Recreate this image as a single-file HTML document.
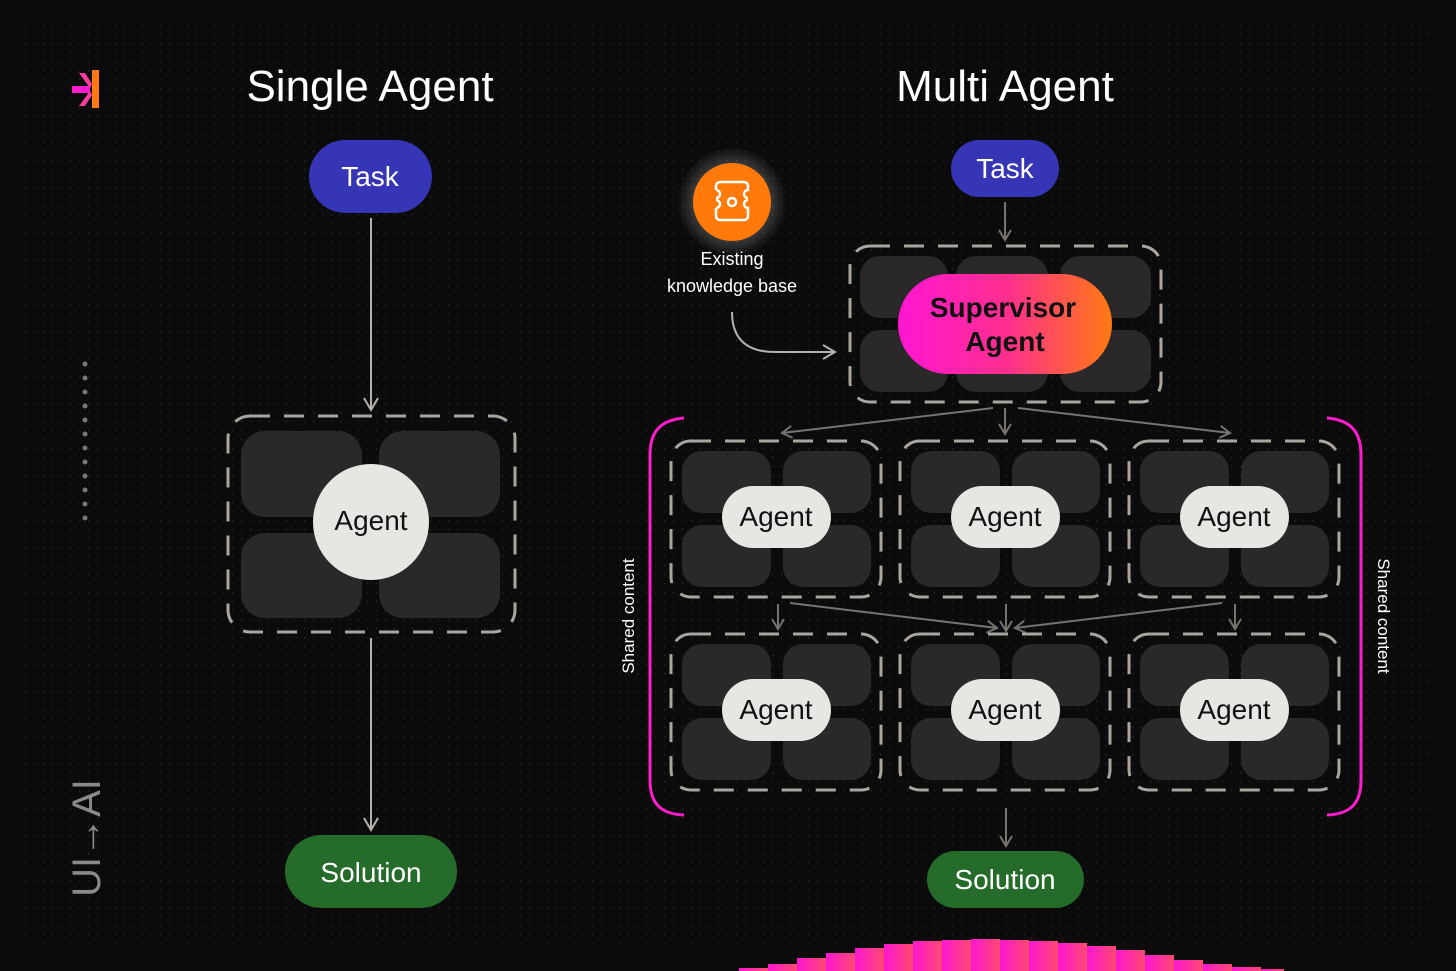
<!DOCTYPE html>
<html><head><meta charset="utf-8"><style>
html,body{margin:0;padding:0;background:#0b0b0b;}
svg{display:block;font-family:"Liberation Sans",sans-serif;}
</style></head><body>
<svg width="1456" height="971" viewBox="0 0 1456 971" xmlns="http://www.w3.org/2000/svg">
<defs>
<pattern id="dots" x="25" y="25" width="9" height="9" patternUnits="userSpaceOnUse"><rect width="1.3" height="1.3" fill="#2c2c2c"/></pattern>
<linearGradient id="sup" x1="0" x2="1"><stop offset="0" stop-color="#ff16d2"/><stop offset="0.5" stop-color="#ff2e90"/><stop offset="1" stop-color="#ff7a12"/></linearGradient>
<linearGradient id="bar" x1="0" x2="1"><stop offset="0" stop-color="#ff16d2"/><stop offset="1" stop-color="#ff4a70"/></linearGradient>
<radialGradient id="glow"><stop offset="0.6" stop-color="#ffffff" stop-opacity="0.25"/><stop offset="1" stop-color="#ffffff" stop-opacity="0"/></radialGradient>
<marker id="ah" markerWidth="14" markerHeight="14" refX="11" refY="7" orient="auto" markerUnits="userSpaceOnUse"><path d="M1,1 L11,7 L1,13" fill="none" stroke="#77736e" stroke-width="2"/></marker>
<marker id="ah2" markerWidth="16" markerHeight="16" refX="13" refY="8" orient="auto" markerUnits="userSpaceOnUse"><path d="M1,1 L13,8 L1,15" fill="none" stroke="#b5b1ac" stroke-width="2"/></marker>
</defs>
<rect width="1456" height="971" fill="#0b0b0b"/>
<rect x="25" y="25" width="1405" height="925" fill="url(#dots)"/>

<!-- logo -->
<rect x="92" y="70" width="7" height="38" fill="#ff7a12"/>
<rect x="72" y="86" width="18" height="7" fill="#ff1ccc"/>
<path d="M79,73 L85,73 L92,84 L90,88 Z" fill="#ff3aa0"/>
<path d="M90,91 L92,95 L85,106 L79,106 Z" fill="#ff3aa0"/>

<!-- left vertical dots -->
<g fill="#777">
<circle cx="85" cy="364" r="2.5"/><circle cx="85" cy="378" r="2.5"/><circle cx="85" cy="392" r="2.5"/><circle cx="85" cy="406" r="2.5"/><circle cx="85" cy="420" r="2.5"/><circle cx="85" cy="434" r="2.5"/><circle cx="85" cy="448" r="2.5"/><circle cx="85" cy="462" r="2.5"/><circle cx="85" cy="476" r="2.5"/><circle cx="85" cy="490" r="2.5"/><circle cx="85" cy="504" r="2.5"/><circle cx="85" cy="518" r="2.5"/>
</g>
<text transform="translate(100,838) rotate(-90)" text-anchor="middle" font-size="40" fill="#8a8a8a" font-weight="300">UI→AI</text>

<!-- titles -->
<text x="370" y="101" text-anchor="middle" font-size="44" fill="#fff">Single Agent</text>
<text x="1005" y="101" text-anchor="middle" font-size="44" fill="#fff">Multi Agent</text>

<!-- SINGLE -->
<rect x="309" y="140" width="123" height="73" rx="36.5" fill="#3535b5"/>
<text x="370" y="186" text-anchor="middle" font-size="28" fill="#fff">Task</text>
<line x1="371" y1="218" x2="371" y2="410" stroke="#b5b1ac" stroke-width="2" marker-end="url(#ah2)"/>
<rect x="228" y="416" width="287" height="216" rx="22" fill="none" stroke="#aaa59f" stroke-width="3" stroke-dasharray="20 14"/>
<g fill="#2a2828">
<rect x="241" y="431" width="121" height="86" rx="24"/><rect x="379" y="431" width="121" height="86" rx="24"/>
<rect x="241" y="533" width="121" height="85" rx="24"/><rect x="379" y="533" width="121" height="85" rx="24"/>
</g>
<circle cx="371" cy="522" r="58" fill="#e8e6e3"/>
<text x="371" y="530" text-anchor="middle" font-size="28" fill="#111">Agent</text>
<line x1="371" y1="638" x2="371" y2="830" stroke="#b5b1ac" stroke-width="2" marker-end="url(#ah2)"/>
<rect x="285" y="835" width="172" height="73" rx="36.5" fill="#256b2a"/>
<text x="371" y="882" text-anchor="middle" font-size="28" fill="#fff">Solution</text>

<!-- MULTI -->
<rect x="951" y="140" width="108" height="57" rx="28.5" fill="#3535b5"/>
<text x="1005" y="178" text-anchor="middle" font-size="28" fill="#fff">Task</text>
<line x1="1005" y1="202" x2="1005" y2="240" stroke="#77736e" stroke-width="2" marker-end="url(#ah)"/>

<circle cx="732" cy="202" r="55" fill="url(#glow)"/>
<circle cx="732" cy="202" r="39" fill="#ff7a0a"/>
<g fill="none" stroke="#fff" stroke-width="2.5">
<path d="M716,190 v-4 a4,4 0 0 1 4,-4 h24 a4,4 0 0 1 4,4 v4 a4,4 0 0 0 0,8 M716,190 a4,4 0 0 1 0,8"/>
<path d="M716,208 v8 a4,4 0 0 0 4,4 h24 a4,4 0 0 0 4,-4 v-8 a4,4 0 0 1 0,-8 M716,208 a4,4 0 0 0 0,-8"/>
<circle cx="732" cy="202" r="4"/>
</g>
<text x="732" y="265" text-anchor="middle" font-size="18" fill="#fff">Existing</text>
<text x="732" y="292" text-anchor="middle" font-size="18" fill="#fff">knowledge base</text>
<path d="M732,312 C732,340 748,352 775,352 L835,352" fill="none" stroke="#b5b1ac" stroke-width="2" marker-end="url(#ah2)"/>

<rect x="850" y="246" width="311" height="156" rx="20" fill="none" stroke="#aaa59f" stroke-width="3" stroke-dasharray="20 14"/>
<g fill="#2a2828">
<rect x="860" y="256" width="88" height="62" rx="20"/><rect x="956" y="256" width="92" height="62" rx="20"/><rect x="1060" y="256" width="91" height="62" rx="20"/>
<rect x="860" y="330" width="88" height="62" rx="20"/><rect x="956" y="330" width="92" height="62" rx="20"/><rect x="1060" y="330" width="91" height="62" rx="20"/>
</g>
<rect x="898" y="274" width="214" height="100" rx="50" fill="url(#sup)"/>
<text x="1003" y="317" text-anchor="middle" font-size="28" fill="#111" font-weight="bold">Supervisor</text>
<text x="1005" y="351" text-anchor="middle" font-size="28" fill="#111" font-weight="bold">Agent</text>

<g stroke="#77736e" stroke-width="2" fill="none">
<line x1="993" y1="408" x2="782" y2="433" marker-end="url(#ah)"/>
<line x1="1005" y1="408" x2="1005" y2="434" marker-end="url(#ah)"/>
<line x1="1018" y1="408" x2="1230" y2="433" marker-end="url(#ah)"/>
<line x1="778" y1="604" x2="778" y2="629" marker-end="url(#ah)"/>
<line x1="1235" y1="604" x2="1235" y2="629" marker-end="url(#ah)"/>
<line x1="1006" y1="604" x2="1006" y2="631" marker-end="url(#ah)"/>
<line x1="790" y1="603" x2="997" y2="628" marker-end="url(#ah)"/>
<line x1="1222" y1="603" x2="1015" y2="628" marker-end="url(#ah)"/>
<line x1="1006" y1="808" x2="1006" y2="846" marker-end="url(#ah)"/>
</g>

<!-- brackets -->
<path d="M684,418 C660,420 650,432 650,455 L650,780 C650,803 660,814 684,815" fill="none" stroke="#ff1ccc" stroke-width="3"/>
<path d="M1327,418 C1351,420 1361,432 1361,455 L1361,780 C1361,803 1351,814 1327,815" fill="none" stroke="#ff1ccc" stroke-width="3"/>
<text transform="translate(634,616) rotate(-90)" text-anchor="middle" font-size="17" fill="#fff">Shared content</text>
<text transform="translate(1378,616) rotate(90)" text-anchor="middle" font-size="17" fill="#fff">Shared content</text>

<!-- agent cells -->
<g id="cells">
 <rect x="671" y="441" width="210" height="156" rx="20" fill="none" stroke="#aaa59f" stroke-width="3" stroke-dasharray="20 14"/>
 <g fill="#2a2828"><rect x="682" y="451" width="89" height="62" rx="20"/><rect x="783" y="451" width="88" height="62" rx="20"/><rect x="682" y="525" width="89" height="62" rx="20"/><rect x="783" y="525" width="88" height="62" rx="20"/></g>
 <rect x="722" y="486" width="109" height="62" rx="31" fill="#e8e6e3"/>
 <text x="776" y="526" text-anchor="middle" font-size="28" fill="#111">Agent</text>
</g>
<use href="#cells" x="229" y="0"/>
<use href="#cells" x="458" y="0"/>
<use href="#cells" x="0" y="193"/>
<use href="#cells" x="229" y="193"/>
<use href="#cells" x="458" y="193"/>

<rect x="927" y="851" width="157" height="57" rx="28.5" fill="#256b2a"/>
<text x="1005" y="889" text-anchor="middle" font-size="28" fill="#fff">Solution</text>

<!-- bottom bars -->
<g fill="url(#bar)">
<rect x="739" y="968" width="29" height="3"/>
<rect x="768" y="964" width="29" height="7"/>
<rect x="797" y="958" width="29" height="13"/>
<rect x="826" y="953" width="29" height="18"/>
<rect x="855" y="948" width="29" height="23"/>
<rect x="884" y="944" width="29" height="27"/>
<rect x="913" y="941" width="29" height="30"/>
<rect x="942" y="940" width="29" height="31"/>
<rect x="971" y="939" width="29" height="32"/>
<rect x="1000" y="940" width="29" height="31"/>
<rect x="1029" y="941" width="29" height="30"/>
<rect x="1058" y="943" width="29" height="28"/>
<rect x="1087" y="946" width="29" height="25"/>
<rect x="1116" y="950" width="29" height="21"/>
<rect x="1145" y="955" width="29" height="16"/>
<rect x="1174" y="960" width="29" height="11"/>
<rect x="1203" y="964" width="29" height="7"/>
<rect x="1232" y="967" width="29" height="4"/>
<rect x="1261" y="969" width="23" height="2"/>
</g>
</svg>
</body></html>
